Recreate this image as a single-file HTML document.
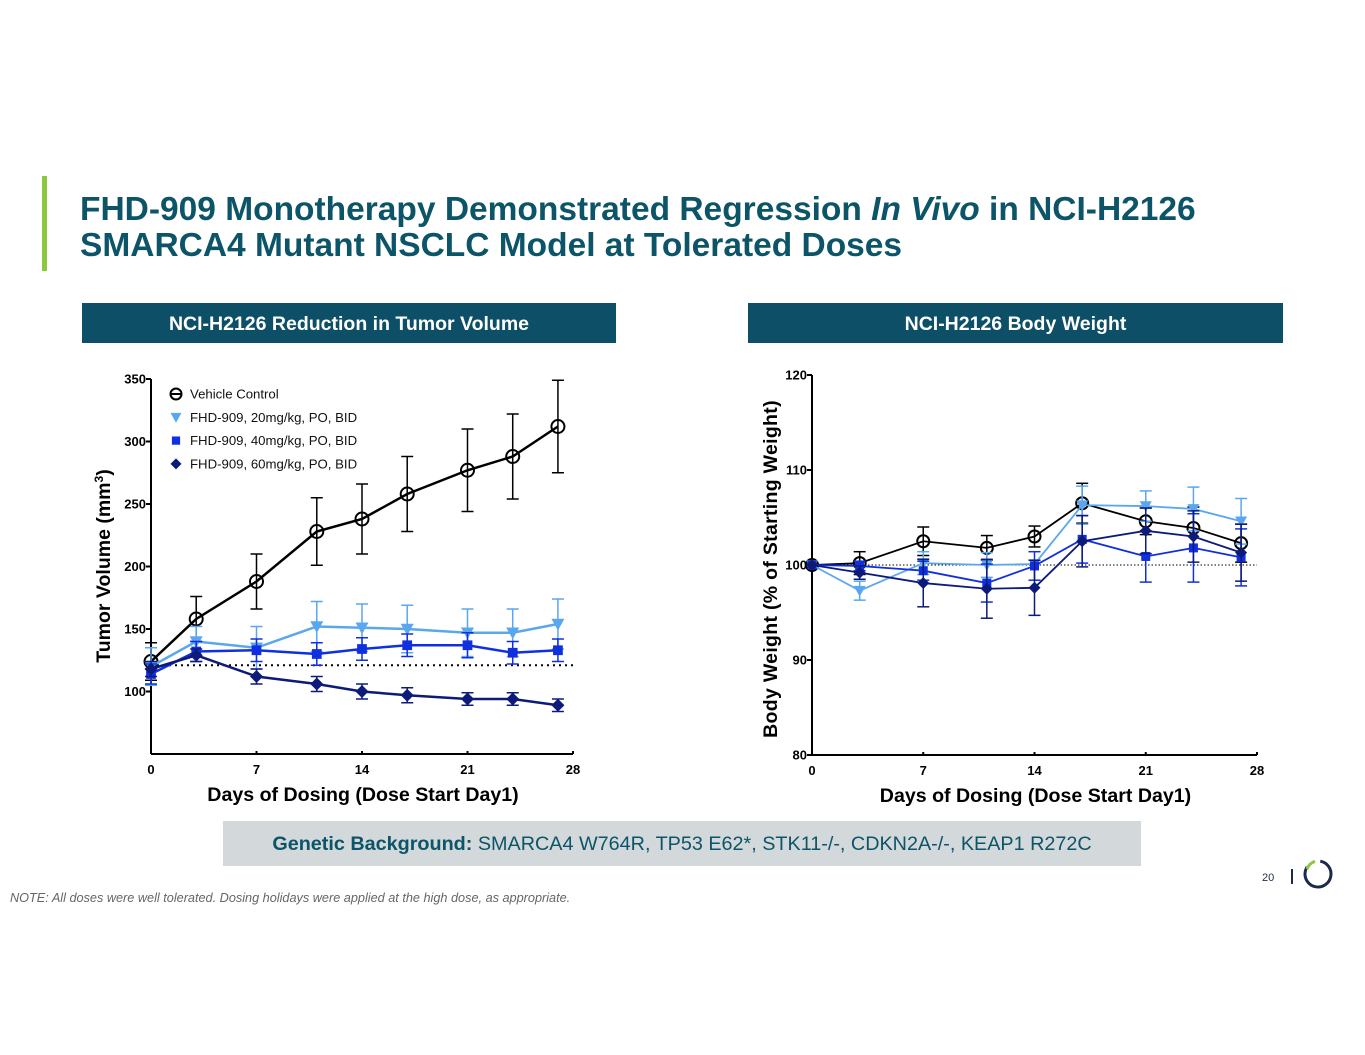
<!DOCTYPE html>
<html><head><meta charset="utf-8"><style>
body{margin:0;width:1365px;height:1055px;background:#fff;font-family:"Liberation Sans",Arial,sans-serif;position:relative;overflow:hidden}
.abs{position:absolute}
.title{left:80px;top:192px;font-size:33.5px;font-weight:bold;color:#0c5468;line-height:36px;white-space:nowrap}
.hdr{background:#0d4f66;color:#fff;font-weight:bold;font-size:19.5px;text-align:center;line-height:42px;height:40px;top:303px}
</style></head><body>
<div class="abs" style="left:42px;top:176px;width:5px;height:95px;background:#8dc63f"></div>
<div class="abs title">FHD-909 Monotherapy Demonstrated Regression <i>In Vivo</i> in NCI-H2126<br>SMARCA4 Mutant NSCLC Model at Tolerated Doses</div>
<div class="abs hdr" style="left:82px;width:534px">NCI-H2126 Reduction in Tumor Volume</div>
<div class="abs hdr" style="left:748px;width:535px">NCI-H2126 Body Weight</div>
<div class="abs" style="left:223px;top:821px;width:918px;height:45px;background:#d3d8db;color:#0c5468;font-size:19.8px;line-height:47px;text-align:center"><b>Genetic Background:</b> SMARCA4 W764R, TP53 E62*, STK11-/-, CDKN2A-/-, KEAP1 R272C</div>
<div class="abs" style="left:10px;top:891px;font-size:12.7px;font-style:italic;color:#666">NOTE: All doses were well tolerated. Dosing holidays were applied at the high dose, as appropriate.</div>
<div class="abs" style="left:1262px;top:872px;font-size:11px;color:#1c2a4a">20</div>
<div class="abs" style="left:1291px;top:869px;width:1.5px;height:15px;background:#1c2a4a"></div>
<svg class="abs" style="left:1302px;top:858px" width="32" height="32" viewBox="0 0 32 32">
<circle cx="16" cy="16" r="13" fill="none" stroke="#1c2a4a" stroke-width="3" stroke-dasharray="66 100" transform="rotate(-80 16 16)"/>
<path d="M5 11 A13 13 0 0 1 13 3.3" fill="none" stroke="#8dc63f" stroke-width="3"/>
</svg>
<svg id="chart" class="abs" style="left:0;top:0" width="1365" height="1055"></svg>
<script>
const days=[0,3,7,11,14,17,21,24,27];
const xTicks=[0,7,14,21,28];
const tvTicks=[100,150,200,250,300,350];
const bwTicks=[80,90,100,110,120];
const tvVehicle=[124,158,188,228,238,258,277,288,312];
const tvVehicleErr=[15,18,22,27,28,30,33,34,37];
const tv20=[120,140,135,152,151,150,147,147,154];
const tv20Err=[15,12,17,20,19,19,19,19,20];
const tv40=[114,132,133,130,134,137,137,131,133];
const tv40Err=[8,8,9,9,9,9,10,9,9];
const tv60=[118,129,112,106,100,97,94,94,89];
const tv60Err=[6,5,6,6,6,6,5,5,5];
const tvBaseline=121;
const bwVehicle=[100,100.2,102.5,101.8,103,106.5,104.6,103.9,102.3];
const bwVehicleErr=[0,1.2,1.5,1.3,1.1,2.1,1.4,2.2,2.0];
const bw20=[100,97.3,100.2,100,100.1,106.3,106.2,105.9,104.6];
const bw20Err=[0,1,1.2,1.3,0,2.0,1.6,2.3,2.4];
const bw40=[100,99.9,99.4,98.1,99.9,102.7,100.9,101.8,100.8];
const bw40Err=[0,0.5,1,2,1.5,2.5,2.7,3.6,3.0];
const bw60=[100,99.2,98.1,97.5,97.6,102.5,103.6,103,101.3];
const bw60Err=[0,0.7,2.5,3.1,2.9,2.7,2.4,2.7,3.0];
const bwBaseline=100;
const legendLabels=["Vehicle Control","FHD-909, 20mg/kg, PO, BID","FHD-909, 40mg/kg, PO, BID","FHD-909, 60mg/kg, PO, BID"];

const svg=document.getElementById('chart');
const NS='http://www.w3.org/2000/svg';
function mk(tag,attrs,parent){const e=document.createElementNS(NS,tag);for(const k in attrs)e.setAttribute(k,attrs[k]);(parent||svg).appendChild(e);return e;}
const colors=['#000','#5aa7f0','#1030e0','#0d1a7a'];
const shapes=['circle','tri','square','diamond'];
function marker(g,shape,x,y,c,s){
  let e;
  if(shape==='circle')e=mk('circle',{cx:x,cy:y,r:s,fill:'#fff','fill-opacity':0,stroke:c,'stroke-width':2},g);
  else if(shape==='tri')e=mk('polygon',{points:`${x-s},${y-s*0.8} ${x+s},${y-s*0.8} ${x},${y+s}`,fill:c},g);
  else if(shape==='square')e=mk('rect',{x:x-s*0.75,y:y-s*0.75,width:s*1.5,height:s*1.5,fill:c},g);
  else e=mk('polygon',{points:`${x},${y-s} ${x+s},${y} ${x},${y+s} ${x-s},${y}`,fill:c},g);
  return e;
}
function chart(cfg){
  const X=d=>cfg.x0+(d/28)*(cfg.x1-cfg.x0);
  const Y=v=>cfg.yTop+(cfg.vMax-v)/(cfg.vMax-cfg.vMin)*(cfg.yBot-cfg.yTop);
  const g=mk('g',{});
  
  
  mk('line',{x1:cfg.x0,y1:cfg.yTop,x2:cfg.x0,y2:cfg.yBot,stroke:'#000','stroke-width':2},g);
  mk('line',{x1:cfg.x0,y1:cfg.yBot,x2:cfg.x1,y2:cfg.yBot,stroke:'#000','stroke-width':2},g);
  cfg.yTicks.forEach(t=>{
    mk('line',{x1:cfg.x0-5,y1:Y(t),x2:cfg.x0,y2:Y(t),stroke:'#000','stroke-width':2},g);
    const tx=mk('text',{x:cfg.x0-5,y:Y(t)+4.5,'text-anchor':'end','font-size':13,'font-weight':'bold'},g);tx.textContent=t;
    
    
  });
  xTicks.forEach(t=>{
    mk('line',{x1:X(t),y1:cfg.yBot-3,x2:X(t),y2:cfg.yBot,stroke:'#000','stroke-width':2},g);
    const tx=mk('text',{x:X(t),y:cfg.yBot+20,'text-anchor':'middle','font-size':13,'font-weight':'bold'},g);tx.textContent=t;
    
    
  });
  mk('line',{x1:cfg.x0,y1:Y(cfg.baseline),x2:cfg.x1,y2:Y(cfg.baseline),stroke:'#000','stroke-width':cfg.dotW,'stroke-dasharray':cfg.dotDash},g);
  const xt=mk('text',{x:(cfg.x0+cfg.x1)/2+1,y:cfg.yBot+47,'text-anchor':'middle','font-size':19.6,'font-weight':'bold'},g);
  xt.textContent='Days of Dosing (Dose Start Day1)';
  
  
  const yt=mk('text',{x:0,y:0,'text-anchor':'middle','font-size':cfg.yFont,'font-weight':'bold','letter-spacing':cfg.ls,transform:`translate(${cfg.yTitleX},${cfg.yTitleY}) rotate(-90)`},g);
  yt.innerHTML=cfg.yTitle;
  
  
  cfg.series.forEach((s,i)=>{
    const sg=mk('g',{},g);
    
    
    s.v.forEach((v,j)=>{
      const x=X(days[j]);const e=s.e[j];if(!e)return;
      mk('line',{x1:x,y1:Y(v+e),x2:x,y2:Y(v-e),stroke:colors[i],'stroke-width':1.5},sg);
      mk('line',{x1:x-6,y1:Y(v+e),x2:x+6,y2:Y(v+e),stroke:colors[i],'stroke-width':1.5},sg);
      mk('line',{x1:x-6,y1:Y(v-e),x2:x+6,y2:Y(v-e),stroke:colors[i],'stroke-width':1.5},sg);
    });
    mk('polyline',{points:s.v.map((v,j)=>X(days[j])+','+Y(v)).join(' '),fill:'none',stroke:colors[i],'stroke-width':cfg.lw},sg);
    s.v.forEach((v,j)=>{const m=marker(sg,shapes[i],X(days[j]),Y(v),colors[i],cfg.ms);
      
      });
  });
}
chart({name:'tumor-volume-chart',keys:['vehicle','20mg','40mg','60mg'],x0:151,x1:573,yTop:379,yBot:754,vMin:50,vMax:350,yTicks:tvTicks,baseline:tvBaseline,dotW:2,dotDash:'2 4',lw:2.5,ms:6.5,
  yTitle:'Tumor Volume (mm<tspan baseline-shift="super" font-size="12">3</tspan>)',yTitleX:110,yTitleY:566,yFont:19.5,ls:0,
  series:[{v:tvVehicle,e:tvVehicleErr},{v:tv20,e:tv20Err},{v:tv40,e:tv40Err},{v:tv60,e:tv60Err}]});
chart({name:'body-weight-chart',keys:['vehicle','20mg','40mg','60mg'],x0:812,x1:1257,yTop:375,yBot:755,vMin:80,vMax:120,yTicks:bwTicks,baseline:bwBaseline,dotW:1,dotDash:'1.5 2',lw:1.8,ms:6,
  yTitle:'Body Weight (% of Starting Weight)',yTitleX:777,yTitleY:569,yFont:19.5,ls:0.3,
  series:[{v:bwVehicle,e:bwVehicleErr},{v:bw20,e:bw20Err},{v:bw40,e:bw40Err},{v:bw60,e:bw60Err}]});
const lg=mk('g',{});


legendLabels.forEach((l,i)=>{
  const y=394+i*23.3;
  const eg=mk('g',{},lg);
  
  
  marker(eg,shapes[i],176,y,colors[i],5.5);
  if(i===0)mk('line',{x1:170,y1:y,x2:182,y2:y,stroke:'#000','stroke-width':2},eg);
  const t=mk('text',{x:190,y:y+4.5,'font-size':13.2,fill:'#111'},eg);t.textContent=l;
});
</script>
</body></html>
